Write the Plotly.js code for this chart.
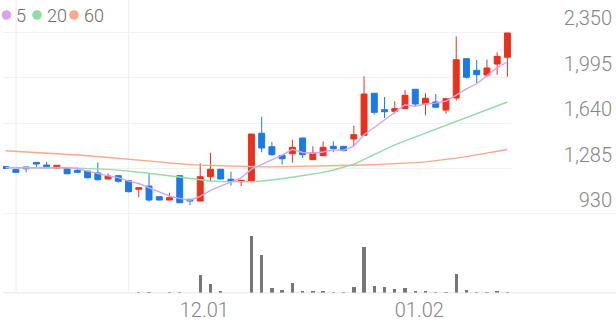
<!DOCTYPE html>
<html><head><meta charset="utf-8">
<script src="https://cdn.plot.ly/plotly-3.0.1.min.js"></script>
<style>html,body{margin:0;padding:0;background:#fff;overflow:hidden}#chart{width:616px;height:321px}</style>
</head><body><div id="chart"></div>
<script>
const dates = ['11.06','11.07','11.10','11.11','11.12','11.13','11.14','11.17','11.18','11.19',
  '11.20','11.21','11.24','11.25','11.26','11.27','11.28','12.01','12.02','12.03',
  '12.04','12.05','12.08','12.09','12.10','12.11','12.12','12.15','12.16','12.17',
  '12.18','12.19','12.22','12.23','12.24','12.26','12.29','12.30','01.02','01.05',
  '01.06','01.07','01.08','01.09','01.12','01.13','01.14','01.15','01.16','01.19'];
const openP  = [1300,1279,1297,1333,1312,1287,1291,1270,1265,1250,1203,1229,1190,1123,1148,1065,1039,1229,1045,1031,
  1221,1279,1201,1182,1187,1560,1455,1388,1400,1523,1354,1385,1458,1458,1515,1544,1872,1744,1731,1752,
  1903,1788,1804,1741,1835,2142,2051,2014,2100,2153];
const highP  = [1304,1281,1299,1335,1338,1312,1293,1294,1268,1333,1248,1231,1192,1137,1242,1067,1096,1231,1047,1326,
  1408,1281,1260,1195,1556,1689,1492,1390,1510,1525,1458,1497,1497,1460,1619,2004,1874,1843,1809,1897,
  1905,1872,1866,1832,2316,2144,2132,2134,2191,2344];
const lowP   = [1282,1252,1255,1297,1298,1285,1242,1253,1208,1190,1201,1174,1099,1060,1026,1037,1037,1016,1000,1029,
  1182,1200,1151,1148,1185,1411,1385,1315,1330,1367,1352,1383,1414,1420,1458,1542,1705,1679,1713,1750,
  1770,1700,1760,1713,1814,1986,1952,1997,2017,2001];
const closeP = [1285,1255,1283,1320,1299,1310,1244,1255,1213,1198,1226,1185,1104,1135,1039,1039,1057,1018,1031,1221,
  1279,1203,1187,1193,1554,1445,1393,1361,1450,1393,1406,1450,1440,1424,1549,1866,1723,1728,1752,1856,
  1788,1833,1763,1830,2134,1997,2017,2069,2160,2342];
const ma5  = [1290,1288,1287,1289,1288,1293,1291,1285,1265,1244,1227,1214,1186,1168,1134,1098,1070,1052,1038,1068,
  1115,1147,1180,1212,1280,1318,1356,1390,1435,1410,1404,1414,1430,1428,1460,1548,1605,1665,1728,1782,
  1770,1790,1795,1810,1858,1906,1946,2006,2072,2118];
const ma20 = [1294,1294,1293,1293,1292,1291,1290,1288,1286,1283,1278,1272,1265,1257,1248,1238,1228,1216,1204,1194,
  1187,1183,1181,1180,1182,1187,1194,1205,1217,1229,1241,1255,1273,1294,1318,1356,1395,1433,1469,1500,
  1530,1560,1591,1622,1654,1685,1715,1745,1775,1804];
const ma60 = [1424,1420,1415,1410,1405,1400,1395,1390,1384,1378,1372,1365,1359,1352,1345,1337,1328,1320,1315,1311,
  1308,1305,1302,1300,1298,1298,1298,1299,1300,1301,1302,1303,1305,1307,1309,1312,1315,1318,1321,1326,
  1331,1337,1345,1355,1366,1378,1391,1405,1419,1433];
const volume = [50,40,45,50,40,45,50,40,50,60,45,50,60,130,110,80,90,150,60,1870,
  960,230,70,70,5770,3800,580,320,1040,270,270,270,170,170,680,4680,740,600,460,570,
  270,240,160,140,1920,330,180,180,260,170];
const priceTicks = [930,1285,1640,1995,2350];
const dateTicks = ['12.01','01.02'];
const maNames = ['5','20','60'];
const maColors = ['#d9a3ec','#93dca9','#f7a98a'];

const W = 616, H = 321, ML = 3, MR = 4;
const px2fx = p => (p - ML) / (W - ML - MR);
const py2fy = p => (H - p) / H;

const axisFont = {family:'Roboto, sans-serif', size:20, color:'#858585', weight:300};

const traces = [];
[ma60, ma20, ma5].forEach((arr, k) => {
  const idx = 2 - k;
  traces.push({type:'scatter', mode:'lines', x:dates, y:arr, xaxis:'x', yaxis:'y',
    line:{color:maColors[idx], width:1.4}, hoverinfo:'skip', showlegend:false});
});
traces.push({type:'candlestick', x:dates, open:openP, high:highP, low:lowP, close:closeP,
  xaxis:'x', yaxis:'y', whiskerwidth:0, line:{width:1},
  increasing:{line:{color:'#e8321c', width:1}, fillcolor:'#e8321c'},
  decreasing:{line:{color:'#1b79e8', width:1}, fillcolor:'#1b79e8'},
  showlegend:false, hoverinfo:'skip'});
traces.push({type:'bar', x:dates, y:volume, xaxis:'x2', yaxis:'y2', width:0.33,
  marker:{color:'#767676', line:{width:0}}, showlegend:false, hoverinfo:'skip'});

const xDom = [0, px2fx(511)];
const shapes = [];
dateTicks.forEach(d => shapes.push({type:'line', xref:'x', yref:'paper', x0:d, x1:d,
  y0:py2fy(293.3), y1:1, line:{color:'#eeeeee', width:1}, layer:'below'}));
shapes.push({type:'line', xref:'paper', yref:'y', x0:0, x1:px2fx(616), y0:priceTicks[0], y1:priceTicks[0],
  line:{color:'#e6e6e6', width:1}});
shapes.push({type:'line', xref:'paper', yref:'y2', x0:0, x1:px2fx(616), y0:0, y1:0,
  line:{color:'#dddddd', width:1.5}});

const legendDotX = [6.5, 37, 74];
const legendTextX = [15, 46, 83];
const annotations = [];
maNames.forEach((n, i) => {
  shapes.push({type:'circle', xref:'paper', yref:'paper', xsizemode:'pixel', ysizemode:'pixel',
    xanchor:px2fx(legendDotX[i]), yanchor:py2fy(15), x0:-4.8, x1:4.8, y0:-4.8, y1:4.8,
    fillcolor:maColors[i], line:{width:0}});
  annotations.push({xref:'paper', yref:'paper', x:px2fx(legendTextX[i]), y:py2fy(15),
    xanchor:'left', yanchor:'middle', text:n, showarrow:false, borderpad:0,
    font:{family:'Roboto, sans-serif', size:18, color:'#6c6c6c', weight:300}});
});

const layout = {
  width:W, height:H, margin:{l:ML, r:MR, t:0, b:0, pad:0},
  paper_bgcolor:'#ffffff', plot_bgcolor:'rgba(0,0,0,0)', showlegend:false,
  boxgap:0.42, boxgroupgap:0, bargap:0,
  xaxis:{domain:xDom, type:'category', anchor:'y', range:[-0.26, 49.35],
    showticklabels:false, showgrid:false, zeroline:false, showline:false, ticks:'',
    rangeslider:{visible:false}, fixedrange:true},
  yaxis:{domain:[py2fy(214), py2fy(22)], range:[930, 930 + (214-22)*355/45.5],
    anchor:'free', position:1, side:'left', tickmode:'array', tickvals:priceTicks,
    tickformat:',d', ticklabelposition:'outside top', ticks:'',
    showgrid:true, gridcolor:'#f1f1f1', gridwidth:1, zeroline:false, showline:false,
    tickfont:axisFont, automargin:false, fixedrange:true},
  xaxis2:{domain:xDom, type:'category', anchor:'y2', matches:'x', tickmode:'array', tickvals:dateTicks,
    ticklabelposition:'outside right', ticklabelstandoff:3, ticks:'', showgrid:false, zeroline:false, showline:false,
    tickfont:axisFont, automargin:false, fixedrange:true},
  yaxis2:{domain:[py2fy(293.3), py2fy(233.3)], range:[0, 6000], anchor:'x2',
    showticklabels:false, showgrid:false, zeroline:false, showline:false, ticks:'', fixedrange:true},
  shapes:shapes, annotations:annotations
};
Plotly.newPlot('chart', traces, layout, {displayModeBar:false, staticPlot:true});
</script></body></html>
